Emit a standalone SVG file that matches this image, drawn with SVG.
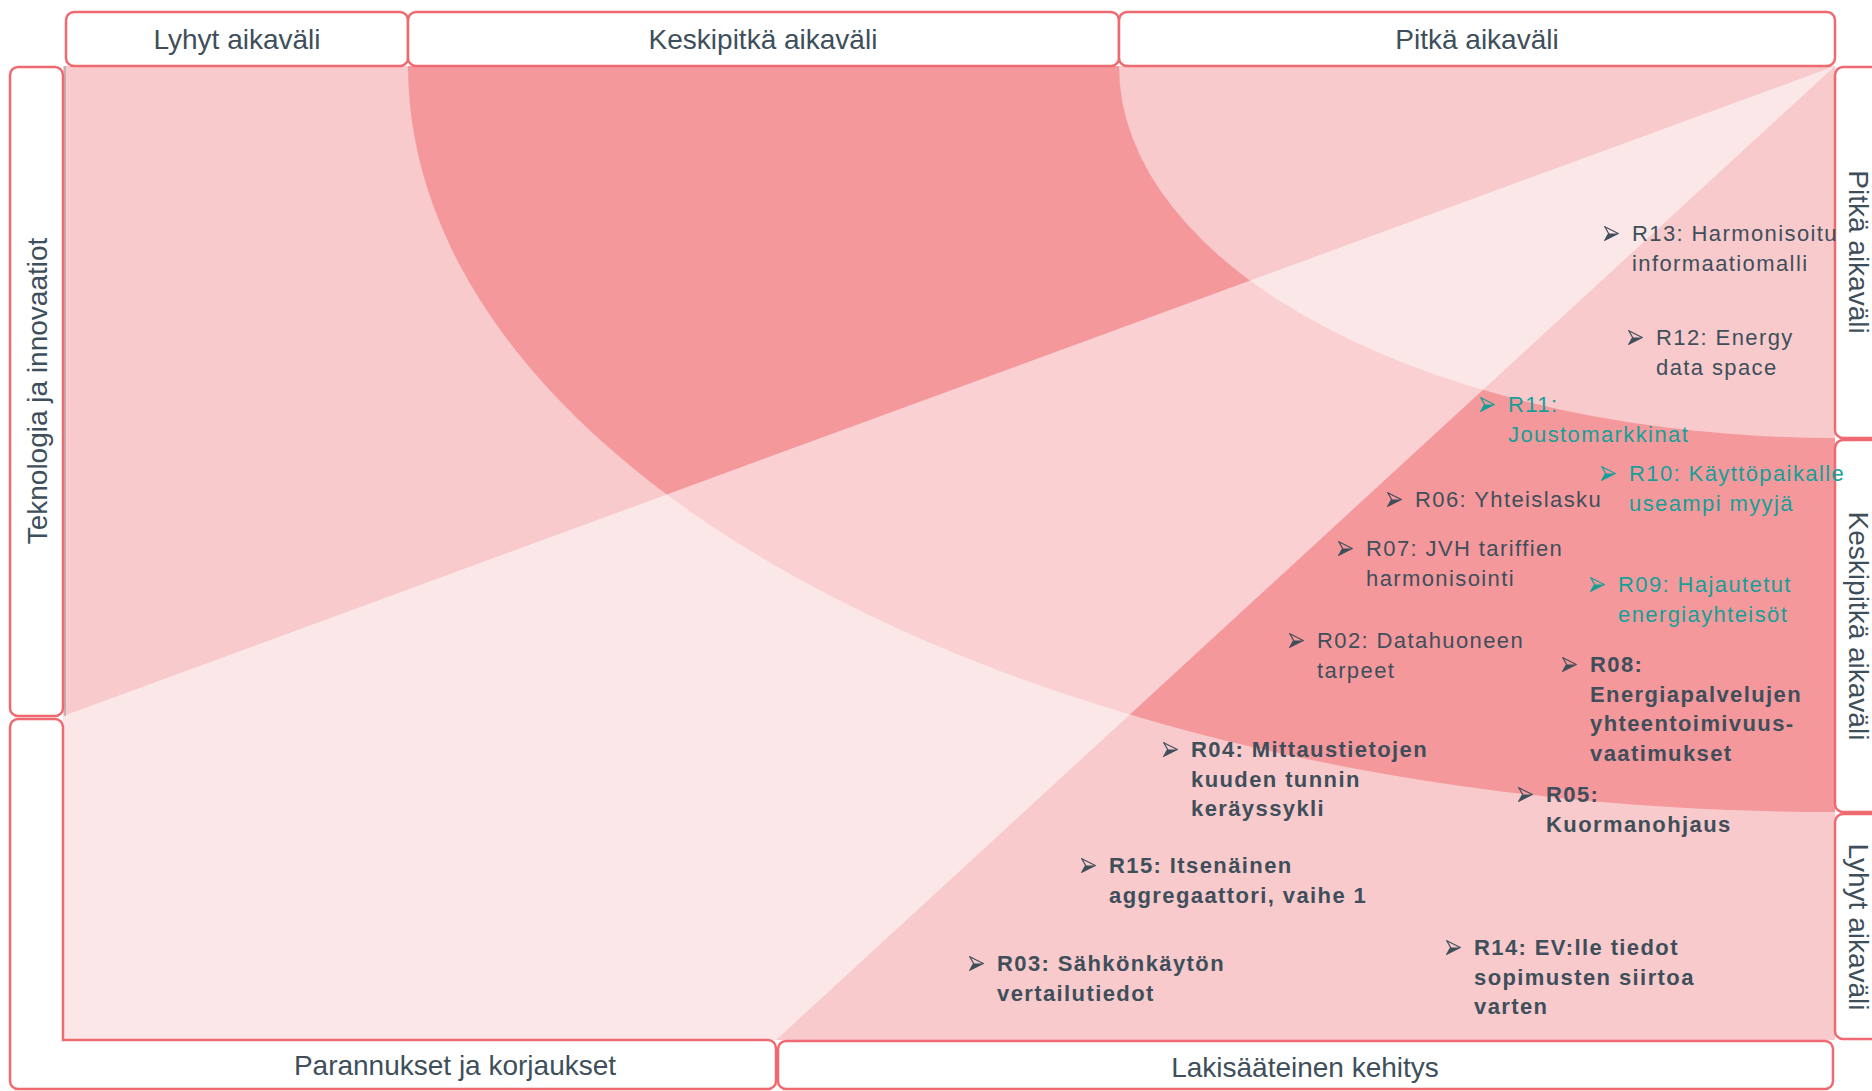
<svg xmlns="http://www.w3.org/2000/svg" xmlns:xlink="http://www.w3.org/1999/xlink" width="1872" height="1091" viewBox="0 0 1872 1091">
<style>
.box{fill:#ffffff;stroke:#ef6a70;stroke-width:2.5}
.hdr{font-family:"Liberation Sans",Arial,sans-serif;font-size:28px;fill:#3e4f5b;text-anchor:middle}
.item{font-family:"Liberation Sans",Arial,sans-serif;font-size:22px;letter-spacing:1.4px;fill:#3e4f5b}
.bold{font-weight:bold}
.teal{fill:#14a098}
.dark{color:#3e4f5b}
.tealc{color:#14a098}
</style>
<defs>
<clipPath id="plotclip"><rect x="63" y="66" width="1772" height="974"/></clipPath>
<symbol id="bullet" viewBox="0 0 15 15">
<path d="M0.8,0.8 L14.3,7.5 L0.8,14.2 L4.6,7.5 Z" fill="none" stroke="currentColor" stroke-width="1.2" stroke-linejoin="miter"/>
<path d="M4.6,7.5 L14.3,7.5 L0.8,14.2 Z" fill="currentColor"/>
</symbol>
</defs>
<rect width="1872" height="1091" fill="#ffffff"/>
<g id="background" clip-path="url(#plotclip)">
<rect x="63" y="66" width="1772" height="974" fill="#f8cacc"/>
<path d="M408,66 A1427,746 0 0 0 1835,812 L1835,66 Z" fill="#f4989c"/>
<path d="M1119,66 A716,372 0 0 0 1835,438 L1835,66 Z" fill="#f8cacc"/>
<polygon points="1835,66 63,716 63,1040 776,1040" fill="#ffffff" fill-opacity="0.55"/>
<line x1="65" y1="66" x2="65" y2="716" stroke="#b0a8a8" stroke-width="1.5"/>
</g>
<g id="connectors"></g>
<g id="header-lyhyt"><rect class="box" x="66" y="12" width="342" height="54" rx="8"/><text class="hdr" x="237" y="49">Lyhyt aikaväli</text></g>
<g id="header-keskipitka"><rect class="box" x="408" y="12" width="711" height="54" rx="8"/><text class="hdr" x="763" y="49">Keskipitkä aikaväli</text></g>
<g id="header-pitka"><rect class="box" x="1119" y="12" width="716" height="54" rx="8"/><text class="hdr" x="1477" y="49">Pitkä aikaväli</text></g>
<g id="side-teknologia"><rect class="box" x="10" y="67" width="53" height="649" rx="8"/><text class="hdr" transform="translate(47,391) rotate(-90)">Teknologia ja innovaatiot</text></g>
<g id="side-parannukset"><path class="box" d="M18,719 L55,719 A8,8 0 0 1 63,727 L63,1040 L768,1040 A8,8 0 0 1 776,1048 L776,1081 A8,8 0 0 1 768,1089 L18,1089 A8,8 0 0 1 10,1081 L10,727 A8,8 0 0 1 18,719 Z"/><text class="hdr" x="455" y="1075">Parannukset ja korjaukset</text></g>
<g id="bottom-lakisaateinen"><rect class="box" x="778" y="1041" width="1055" height="48" rx="8"/><text class="hdr" x="1305" y="1077">Lakisääteinen kehitys</text></g>
<g id="right-pitka"><rect class="box" x="1835" y="67" width="60" height="371" rx="8"/><text class="hdr" transform="translate(1849,252) rotate(90)">Pitkä aikaväli</text></g>
<g id="right-keskipitka"><rect class="box" x="1835" y="440" width="60" height="372" rx="8"/><text class="hdr" transform="translate(1849,626) rotate(90)">Keskipitkä aikaväli</text></g>
<g id="right-lyhyt"><rect class="box" x="1835" y="814" width="60" height="225" rx="8"/><text class="hdr" transform="translate(1849,927) rotate(90)">Lyhyt aikaväli</text></g>

<g id="R13" class="dark"><use href="#bullet" x="1604" y="226" width="15" height="15"/><text class="item" x="1632" y="241"><tspan x="1632">R13: Harmonisoitu</tspan><tspan x="1632" dy="29.7">informaatiomalli</tspan></text></g>
<g id="R12" class="dark"><use href="#bullet" x="1628" y="330" width="15" height="15"/><text class="item" x="1656" y="345"><tspan x="1656">R12: Energy</tspan><tspan x="1656" dy="29.7">data space</tspan></text></g>
<g id="R11" class="tealc"><use href="#bullet" x="1480" y="397" width="15" height="15"/><text class="item teal" x="1508" y="412"><tspan x="1508">R11:</tspan><tspan x="1508" dy="29.7">Joustomarkkinat</tspan></text></g>
<g id="R10" class="tealc"><use href="#bullet" x="1601" y="466" width="15" height="15"/><text class="item teal" x="1629" y="481"><tspan x="1629">R10: Käyttöpaikalle</tspan><tspan x="1629" dy="29.7">useampi myyjä</tspan></text></g>
<g id="R06" class="dark"><use href="#bullet" x="1387" y="492" width="15" height="15"/><text class="item" x="1415" y="507">R06: Yhteislasku</text></g>
<g id="R07" class="dark"><use href="#bullet" x="1338" y="541" width="15" height="15"/><text class="item" x="1366" y="556"><tspan x="1366">R07: JVH tariffien</tspan><tspan x="1366" dy="29.7">harmonisointi</tspan></text></g>
<g id="R09" class="tealc"><use href="#bullet" x="1590" y="577" width="15" height="15"/><text class="item teal" x="1618" y="592"><tspan x="1618">R09: Hajautetut</tspan><tspan x="1618" dy="29.7">energiayhteisöt</tspan></text></g>
<g id="R02" class="dark"><use href="#bullet" x="1289" y="633" width="15" height="15"/><text class="item" x="1317" y="648"><tspan x="1317">R02: Datahuoneen</tspan><tspan x="1317" dy="29.7">tarpeet</tspan></text></g>
<g id="R08" class="dark"><use href="#bullet" x="1562" y="657" width="15" height="15"/><text class="item bold" x="1590" y="672"><tspan x="1590">R08:</tspan><tspan x="1590" dy="29.7">Energiapalvelujen</tspan><tspan x="1590" dy="29.7">yhteentoimivuus-</tspan><tspan x="1590" dy="29.7">vaatimukset</tspan></text></g>
<g id="R04" class="dark"><use href="#bullet" x="1163" y="742" width="15" height="15"/><text class="item bold" x="1191" y="757"><tspan x="1191">R04: Mittaustietojen</tspan><tspan x="1191" dy="29.7">kuuden tunnin</tspan><tspan x="1191" dy="29.7">keräyssykli</tspan></text></g>
<g id="R05" class="dark"><use href="#bullet" x="1518" y="787" width="15" height="15"/><text class="item bold" x="1546" y="802"><tspan x="1546">R05:</tspan><tspan x="1546" dy="29.7">Kuormanohjaus</tspan></text></g>
<g id="R15" class="dark"><use href="#bullet" x="1081" y="858" width="15" height="15"/><text class="item bold" x="1109" y="873"><tspan x="1109">R15: Itsenäinen</tspan><tspan x="1109" dy="29.7">aggregaattori, vaihe 1</tspan></text></g>
<g id="R03" class="dark"><use href="#bullet" x="969" y="956" width="15" height="15"/><text class="item bold" x="997" y="971"><tspan x="997">R03: Sähkönkäytön</tspan><tspan x="997" dy="29.7">vertailutiedot</tspan></text></g>
<g id="R14" class="dark"><use href="#bullet" x="1446" y="940" width="15" height="15"/><text class="item bold" x="1474" y="955"><tspan x="1474">R14: EV:lle tiedot</tspan><tspan x="1474" dy="29.7">sopimusten siirtoa</tspan><tspan x="1474" dy="29.7">varten</tspan></text></g>
</svg>
